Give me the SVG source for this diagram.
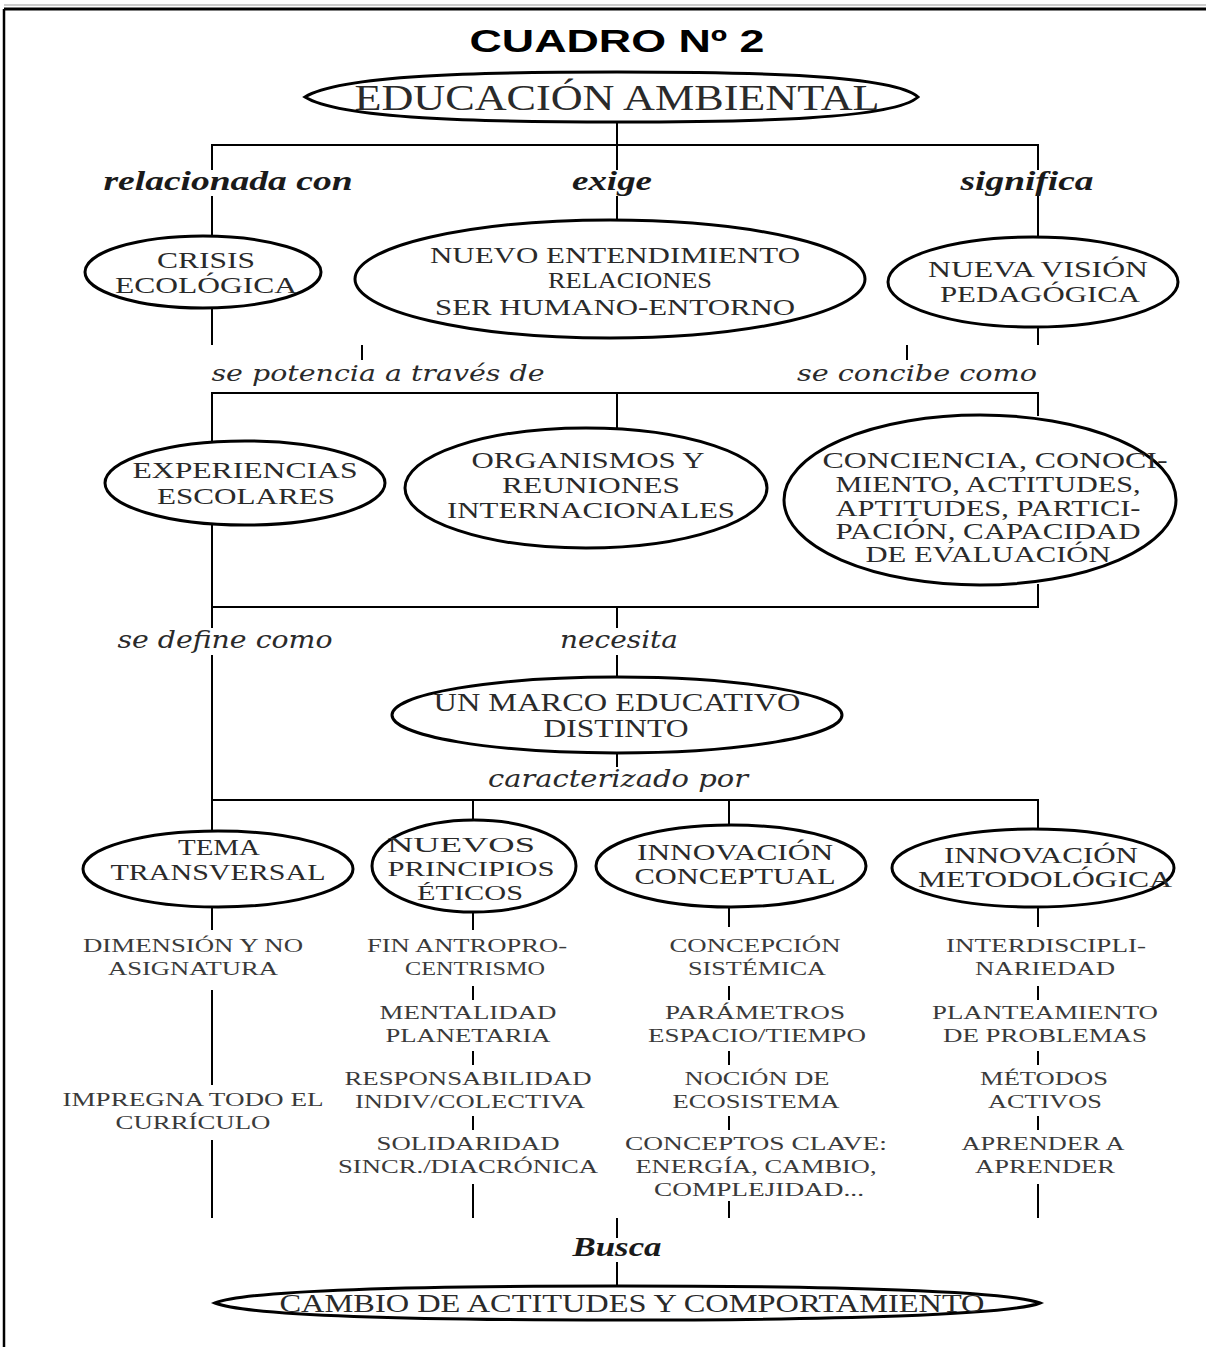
<svg xmlns="http://www.w3.org/2000/svg" width="1206" height="1347" viewBox="0 0 1206 1347">
<style>
.bg{fill:#fff}
.e{fill:#fff;stroke:#000;stroke-width:3}
.ln line{stroke:#000;stroke-width:2}
.t{font-family:"Liberation Serif",serif;font-size:23px;fill:#2a2a2a;text-anchor:middle}
.c{font-family:"Liberation Serif",serif;font-size:19px;fill:#3a3a3a;text-anchor:middle}
.lb{font-family:"Liberation Serif",serif;font-size:28px;font-weight:bold;font-style:italic;fill:#1a1a1a;text-anchor:middle}
.li{font-family:"DejaVu Serif",serif;font-size:23px;font-style:italic;fill:#2a2a2a;text-anchor:middle}
.big{font-size:36px}
.b24{font-size:25px}
.s21{font-size:21px}
.li25{font-size:25px}
</style>
<rect class="bg" x="0" y="0" width="1206" height="1347"/>
<g id="frame">
<line x1="4" y1="9" x2="1206" y2="9" stroke="#000" stroke-width="3"/>
<line x1="4" y1="5" x2="1206" y2="5" stroke="#999" stroke-width="1"/>
<line x1="4" y1="9" x2="4" y2="1347" stroke="#000" stroke-width="2.5"/>
</g>
<g id="title">
<text x="617" y="52" font-family="'Liberation Sans',sans-serif" font-weight="bold" font-size="32" text-anchor="middle" textLength="295" lengthAdjust="spacingAndGlyphs">CUADRO Nº 2</text>
</g>
<g class="ln" id="connectors">
<line x1="617" y1="122" x2="617" y2="145"/>
<line x1="211" y1="145" x2="1039" y2="145"/>
<line x1="212" y1="145" x2="212" y2="170"/><line x1="212" y1="196" x2="212" y2="237"/>
<line x1="617" y1="145" x2="617" y2="170"/><line x1="617" y1="196" x2="617" y2="221"/>
<line x1="1038" y1="145" x2="1038" y2="170"/><line x1="1038" y1="196" x2="1038" y2="238"/>
<line x1="212" y1="308" x2="212" y2="345"/>
<line x1="362" y1="345" x2="362" y2="360"/>
<line x1="907" y1="345" x2="907" y2="360"/>
<line x1="1038" y1="326" x2="1038" y2="345"/>
<line x1="211" y1="393" x2="1039" y2="393"/>
<line x1="212" y1="393" x2="212" y2="442"/>
<line x1="617" y1="393" x2="617" y2="428"/>
<line x1="1038" y1="393" x2="1038" y2="416"/>
<line x1="212" y1="524" x2="212" y2="628"/>
<line x1="1038" y1="584" x2="1038" y2="607"/>
<line x1="211" y1="607" x2="1039" y2="607"/>
<line x1="617" y1="607" x2="617" y2="628"/>
<line x1="617" y1="655" x2="617" y2="678"/>
<line x1="212" y1="655" x2="212" y2="832"/>
<line x1="617" y1="752" x2="617" y2="767"/>
<line x1="211" y1="800" x2="1039" y2="800"/>
<line x1="473" y1="800" x2="473" y2="823"/>
<line x1="729" y1="800" x2="729" y2="828"/>
<line x1="1038" y1="800" x2="1038" y2="830"/>
<line x1="212" y1="906" x2="212" y2="930"/>
<line x1="212" y1="990" x2="212" y2="1085"/>
<line x1="212" y1="1140" x2="212" y2="1218"/>
<line x1="473" y1="911" x2="473" y2="930"/>
<line x1="473" y1="986" x2="473" y2="1000"/>
<line x1="473" y1="1051" x2="473" y2="1065"/>
<line x1="473" y1="1116" x2="473" y2="1130"/>
<line x1="473" y1="1184" x2="473" y2="1218"/>
<line x1="729" y1="907" x2="729" y2="927"/>
<line x1="729" y1="986" x2="729" y2="1000"/>
<line x1="729" y1="1051" x2="729" y2="1065"/>
<line x1="729" y1="1116" x2="729" y2="1130"/>
<line x1="729" y1="1201" x2="729" y2="1218"/>
<line x1="1038" y1="906" x2="1038" y2="927"/>
<line x1="1038" y1="986" x2="1038" y2="1000"/>
<line x1="1038" y1="1051" x2="1038" y2="1065"/>
<line x1="1038" y1="1116" x2="1038" y2="1130"/>
<line x1="1038" y1="1184" x2="1038" y2="1218"/>
<line x1="617" y1="1218" x2="617" y2="1238"/>
<line x1="617" y1="1262" x2="617" y2="1287"/>
</g>
<g id="labels">
<text class="lb" x="228" y="190" textLength="249" lengthAdjust="spacingAndGlyphs">relacionada con</text>
<text class="lb" x="612" y="190" textLength="80" lengthAdjust="spacingAndGlyphs">exige</text>
<text class="lb" x="1027" y="190" textLength="133" lengthAdjust="spacingAndGlyphs">significa</text>
<text class="li" x="378" y="381" textLength="333" lengthAdjust="spacingAndGlyphs">se potencia a través de</text>
<text class="li" x="917" y="381" textLength="240" lengthAdjust="spacingAndGlyphs">se concibe como</text>
<text class="li li25" x="225" y="648" textLength="215" lengthAdjust="spacingAndGlyphs">se define como</text>
<text class="li li25" x="619" y="648" textLength="118" lengthAdjust="spacingAndGlyphs">necesita</text>
<text class="li li25" x="618" y="787" textLength="260" lengthAdjust="spacingAndGlyphs">caracterizado por</text>
<text class="lb" x="617" y="1256" textLength="89" lengthAdjust="spacingAndGlyphs">Busca</text>
</g>
<g id="n-educacion">
<path class="e" d="M305,97 C340,75 480,72 617,72 C754,72 894,75 918,97 C894,119 754,122 617,122 C480,122 340,119 305,97 Z"/>
<text class="t big" x="617" y="110" textLength="525" lengthAdjust="spacingAndGlyphs">EDUCACIÓN AMBIENTAL</text>
</g>
<g id="n-crisis">
<ellipse class="e" cx="203" cy="272" rx="118" ry="36"/>
<text class="t" x="206" y="268" textLength="98" lengthAdjust="spacingAndGlyphs">CRISIS</text>
<text class="t" x="206" y="293" textLength="182" lengthAdjust="spacingAndGlyphs">ECOLÓGICA</text>
</g>
<g id="n-entendimiento">
<ellipse class="e" cx="610" cy="279" rx="255" ry="59"/>
<text class="t" x="615" y="263" textLength="370" lengthAdjust="spacingAndGlyphs">NUEVO ENTENDIMIENTO</text>
<text class="t" x="630" y="288" textLength="164" lengthAdjust="spacingAndGlyphs">RELACIONES</text>
<text class="t" x="615" y="315" textLength="360" lengthAdjust="spacingAndGlyphs">SER HUMANO-ENTORNO</text>
</g>
<g id="n-vision">
<ellipse class="e" cx="1033" cy="282" rx="145" ry="45"/>
<text class="t" x="1038" y="277" textLength="220" lengthAdjust="spacingAndGlyphs">NUEVA VISIÓN</text>
<text class="t" x="1040" y="302" textLength="200" lengthAdjust="spacingAndGlyphs">PEDAGÓGICA</text>
</g>
<g id="n-experiencias">
<ellipse class="e" cx="245" cy="483" rx="140" ry="42"/>
<text class="t" x="245" y="478" textLength="225" lengthAdjust="spacingAndGlyphs">EXPERIENCIAS</text>
<text class="t" x="246" y="504" textLength="178" lengthAdjust="spacingAndGlyphs">ESCOLARES</text>
</g>
<g id="n-organismos">
<ellipse class="e" cx="586" cy="488" rx="181" ry="60"/>
<text class="t" x="588" y="468" textLength="233" lengthAdjust="spacingAndGlyphs">ORGANISMOS Y</text>
<text class="t" x="591" y="493" textLength="178" lengthAdjust="spacingAndGlyphs">REUNIONES</text>
<text class="t" x="591" y="518" textLength="288" lengthAdjust="spacingAndGlyphs">INTERNACIONALES</text>
</g>
<g id="n-conciencia">
<ellipse class="e" cx="980" cy="500" rx="196" ry="85"/>
<text class="t" x="995" y="468" textLength="345" lengthAdjust="spacingAndGlyphs">CONCIENCIA, CONOCI-</text>
<text class="t" x="988" y="492" textLength="305" lengthAdjust="spacingAndGlyphs">MIENTO, ACTITUDES,</text>
<text class="t" x="988" y="516" textLength="305" lengthAdjust="spacingAndGlyphs">APTITUDES, PARTICI-</text>
<text class="t" x="988" y="539" textLength="305" lengthAdjust="spacingAndGlyphs">PACIÓN, CAPACIDAD</text>
<text class="t" x="988" y="562" textLength="245" lengthAdjust="spacingAndGlyphs">DE EVALUACIÓN</text>
</g>
<g id="n-marco">
<ellipse class="e" cx="617" cy="715" rx="225" ry="38"/>
<text class="t b24" x="617" y="711" textLength="367" lengthAdjust="spacingAndGlyphs">UN MARCO EDUCATIVO</text>
<text class="t b24" x="616" y="737" textLength="145" lengthAdjust="spacingAndGlyphs">DISTINTO</text>
</g>
<g id="n-tema">
<ellipse class="e" cx="218" cy="869" rx="135" ry="38"/>
<text class="t" x="219" y="855" textLength="82" lengthAdjust="spacingAndGlyphs">TEMA</text>
<text class="t" x="218" y="880" textLength="215" lengthAdjust="spacingAndGlyphs">TRANSVERSAL</text>
</g>
<g id="n-principios">
<ellipse class="e" cx="474" cy="866" rx="102" ry="46"/>
<text class="t s21" x="461" y="852" textLength="148" lengthAdjust="spacingAndGlyphs">NUEVOS</text>
<text class="t s21" x="471" y="876" textLength="167" lengthAdjust="spacingAndGlyphs">PRINCIPIOS</text>
<text class="t s21" x="470" y="900" textLength="106" lengthAdjust="spacingAndGlyphs">ÉTICOS</text>
</g>
<g id="n-conceptual">
<ellipse class="e" cx="731" cy="866" rx="135" ry="41"/>
<text class="t" x="735" y="860" textLength="196" lengthAdjust="spacingAndGlyphs">INNOVACIÓN</text>
<text class="t" x="735" y="884" textLength="201" lengthAdjust="spacingAndGlyphs">CONCEPTUAL</text>
</g>
<g id="n-metodologica">
<ellipse class="e" cx="1033" cy="868" rx="141" ry="39"/>
<text class="t" x="1041" y="863" textLength="194" lengthAdjust="spacingAndGlyphs">INNOVACIÓN</text>
<text class="t" x="1045" y="887" textLength="254" lengthAdjust="spacingAndGlyphs">METODOLÓGICA</text>
</g>
<g id="col-tema">
<text class="c" x="193" y="952" textLength="220" lengthAdjust="spacingAndGlyphs">DIMENSIÓN Y NO</text>
<text class="c" x="193" y="975" textLength="170" lengthAdjust="spacingAndGlyphs">ASIGNATURA</text>
<text class="c" x="193" y="1106" textLength="261" lengthAdjust="spacingAndGlyphs">IMPREGNA TODO EL</text>
<text class="c" x="193" y="1129" textLength="155" lengthAdjust="spacingAndGlyphs">CURRÍCULO</text>
</g>
<g id="col-principios">
<text class="c" x="467" y="952" textLength="200" lengthAdjust="spacingAndGlyphs">FIN ANTROPRO-</text>
<text class="c" x="475" y="975" textLength="140" lengthAdjust="spacingAndGlyphs">CENTRISMO</text>
<text class="c" x="468" y="1019" textLength="177" lengthAdjust="spacingAndGlyphs">MENTALIDAD</text>
<text class="c" x="468" y="1042" textLength="165" lengthAdjust="spacingAndGlyphs">PLANETARIA</text>
<text class="c" x="468" y="1085" textLength="247" lengthAdjust="spacingAndGlyphs">RESPONSABILIDAD</text>
<text class="c" x="470" y="1108" textLength="230" lengthAdjust="spacingAndGlyphs">INDIV/COLECTIVA</text>
<text class="c" x="468" y="1150" textLength="183" lengthAdjust="spacingAndGlyphs">SOLIDARIDAD</text>
<text class="c" x="468" y="1173" textLength="260" lengthAdjust="spacingAndGlyphs">SINCR./DIACRÓNICA</text>
</g>
<g id="col-conceptual">
<text class="c" x="755" y="952" textLength="171" lengthAdjust="spacingAndGlyphs">CONCEPCIÓN</text>
<text class="c" x="757" y="975" textLength="138" lengthAdjust="spacingAndGlyphs">SISTÉMICA</text>
<text class="c" x="755" y="1019" textLength="180" lengthAdjust="spacingAndGlyphs">PARÁMETROS</text>
<text class="c" x="757" y="1042" textLength="218" lengthAdjust="spacingAndGlyphs">ESPACIO/TIEMPO</text>
<text class="c" x="757" y="1085" textLength="145" lengthAdjust="spacingAndGlyphs">NOCIÓN DE</text>
<text class="c" x="756" y="1108" textLength="167" lengthAdjust="spacingAndGlyphs">ECOSISTEMA</text>
<text class="c" x="756" y="1150" textLength="262" lengthAdjust="spacingAndGlyphs">CONCEPTOS CLAVE:</text>
<text class="c" x="756" y="1173" textLength="241" lengthAdjust="spacingAndGlyphs">ENERGÍA, CAMBIO,</text>
<text class="c" x="759" y="1196" textLength="210" lengthAdjust="spacingAndGlyphs">COMPLEJIDAD...</text>
</g>
<g id="col-metodologica">
<text class="c" x="1046" y="952" textLength="200" lengthAdjust="spacingAndGlyphs">INTERDISCIPLI-</text>
<text class="c" x="1045" y="975" textLength="140" lengthAdjust="spacingAndGlyphs">NARIEDAD</text>
<text class="c" x="1045" y="1019" textLength="226" lengthAdjust="spacingAndGlyphs">PLANTEAMIENTO</text>
<text class="c" x="1045" y="1042" textLength="204" lengthAdjust="spacingAndGlyphs">DE PROBLEMAS</text>
<text class="c" x="1044" y="1085" textLength="128" lengthAdjust="spacingAndGlyphs">MÉTODOS</text>
<text class="c" x="1045" y="1108" textLength="114" lengthAdjust="spacingAndGlyphs">ACTIVOS</text>
<text class="c" x="1043" y="1150" textLength="163" lengthAdjust="spacingAndGlyphs">APRENDER A</text>
<text class="c" x="1045" y="1173" textLength="140" lengthAdjust="spacingAndGlyphs">APRENDER</text>
</g>
<g id="n-cambio">
<path class="e" d="M215,1303 C245,1291 400,1286 617,1286 C834,1286 1010,1291 1040,1303 C1010,1315 834,1320 617,1320 C400,1320 245,1315 215,1303 Z"/>
<text class="t b24" x="632" y="1312" textLength="705" lengthAdjust="spacingAndGlyphs">CAMBIO DE ACTITUDES Y COMPORTAMIENTO</text>
</g>
</svg>
